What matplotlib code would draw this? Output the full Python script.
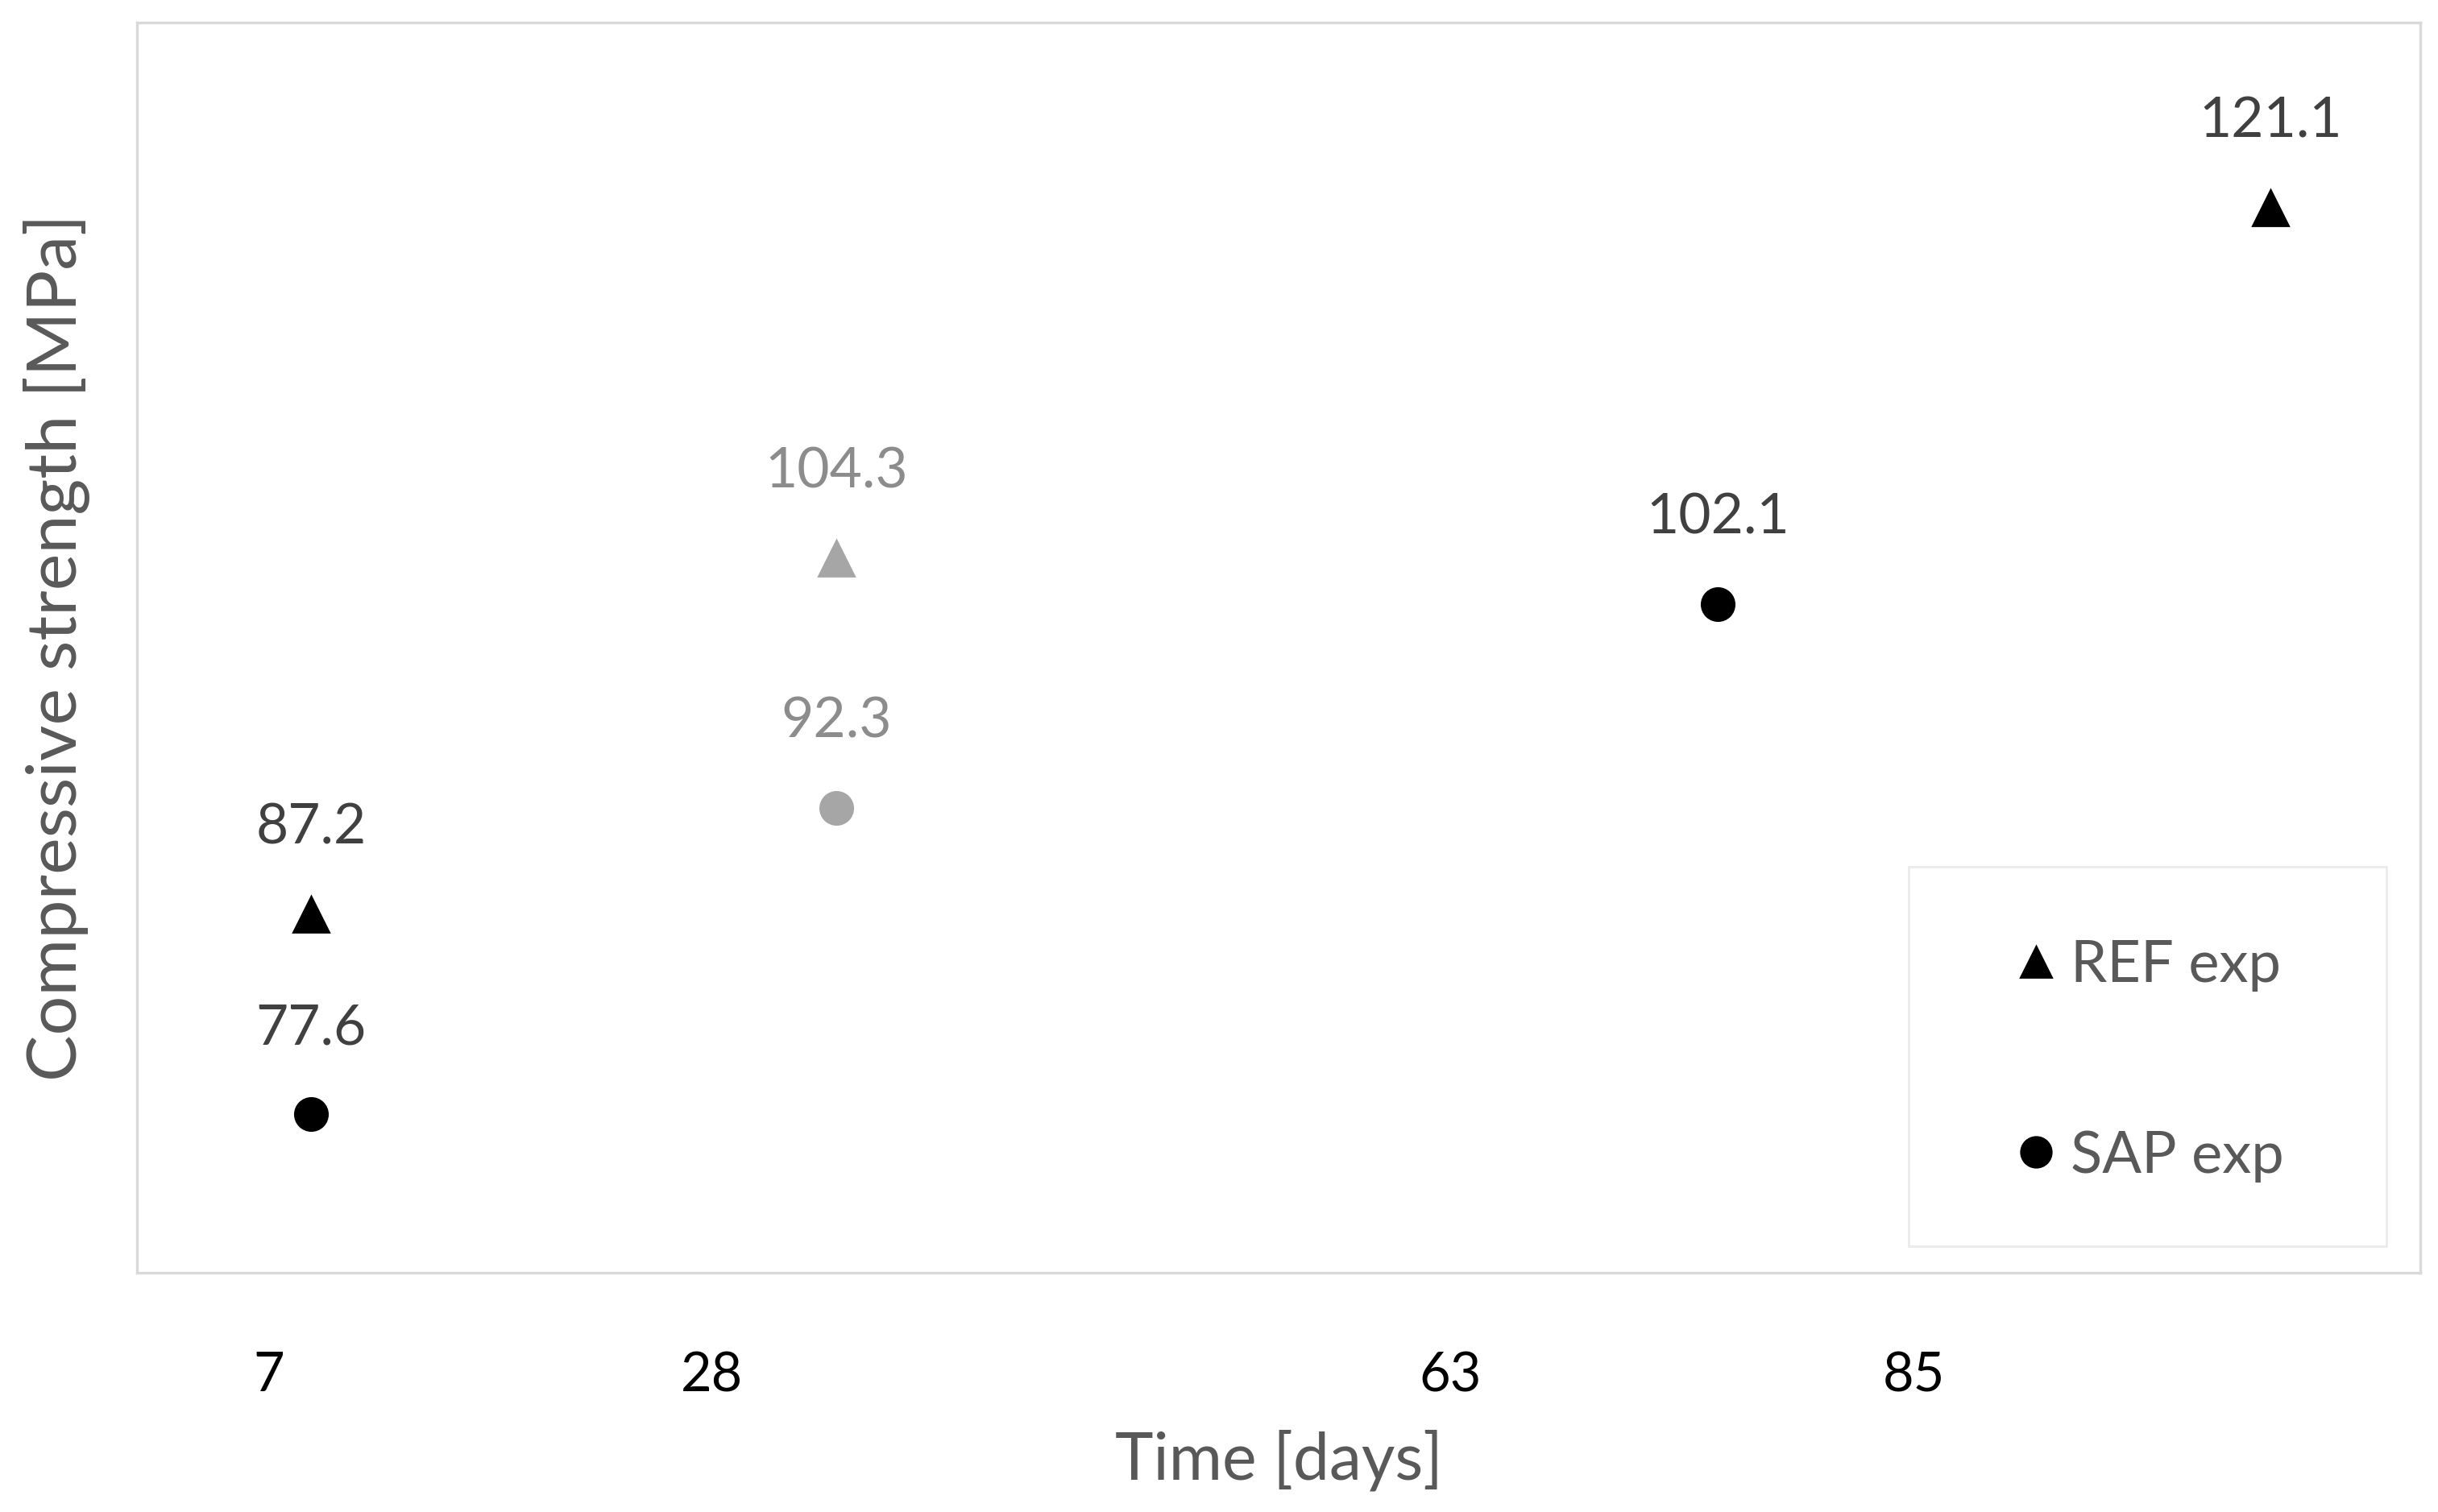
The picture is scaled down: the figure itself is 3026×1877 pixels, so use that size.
import matplotlib.pyplot as plt
from matplotlib.lines import Line2D
from matplotlib.patches import Rectangle

# data (x in days on a linear axis)
tick_days = [7, 28, 63, 85]
ref_days = [9.0, 33.9, 101.9]
ref_vals = [87.2, 104.3, 121.1]
sap_days = [9.0, 33.9, 75.7]
sap_vals = [77.6, 92.3, 102.1]
grey_point = [False, True, False]   # the 28-day pair is drawn in grey

plt.rcParams['font.family'] = ['Lato', 'DejaVu Sans']

fig = plt.figure(figsize=(15.13, 9.385), dpi=200)
ax = fig.add_axes([0.0562, 0.1582, 0.9366, 0.8268])

black = '#000000'
grey = '#A6A6A6'

for days, vals, marker, ms in [(ref_days, ref_vals, '^', 16), (sap_days, sap_vals, 'o', 14.5)]:
    for d, v, g in zip(days, vals, grey_point):
        col = grey if g else black
        ax.plot(d, v, marker=marker, ms=ms, color=col, mec=col, ls='none')
        ax.annotate(f'{v:.1f}', (d, v), xytext=(0, 38.5), textcoords='offset points',
                    ha='center', va='center', fontsize=25,
                    color='#8C8C8C' if g else '#404040')

ax.set_xlim(0.75, 109)
ax.set_ylim(70, 130)
ax.set_xticks(tick_days)
ax.set_xticklabels([str(t) for t in tick_days])
ax.set_yticks([])
ax.tick_params(axis='x', length=0, pad=35, labelsize=24, labelcolor='black')

for s in ax.spines.values():
    s.set_color('#D9D9D9')
    s.set_linewidth(1.2)

ax.set_xlabel('Time [days]', fontsize=29, color='#595959')
ax.set_ylabel('Compressive strength [MPa]', fontsize=31, color='#595959')
ax.xaxis.set_label_coords(0.5, -0.125)
ax.yaxis.set_label_coords(-0.021, 0.5)

# legend box
ax.add_patch(Rectangle((0.776, 0.021), 0.209, 0.304, transform=ax.transAxes,
                       fill=False, edgecolor='#EBEBEB', linewidth=1.0))
handles = [Line2D([], [], marker='^', color='black', ls='none', ms=14),
           Line2D([], [], marker='o', color='black', ls='none', ms=13.5)]
ax.legend(handles, ['REF exp', 'SAP exp'], loc='center left', bbox_to_anchor=(0.806, 0.1695),
          frameon=False, fontsize=26, labelcolor='#595959', handlelength=1.0,
          handletextpad=0.1, borderpad=0, labelspacing=2.37)

fig.savefig('out.png', dpi=200)
